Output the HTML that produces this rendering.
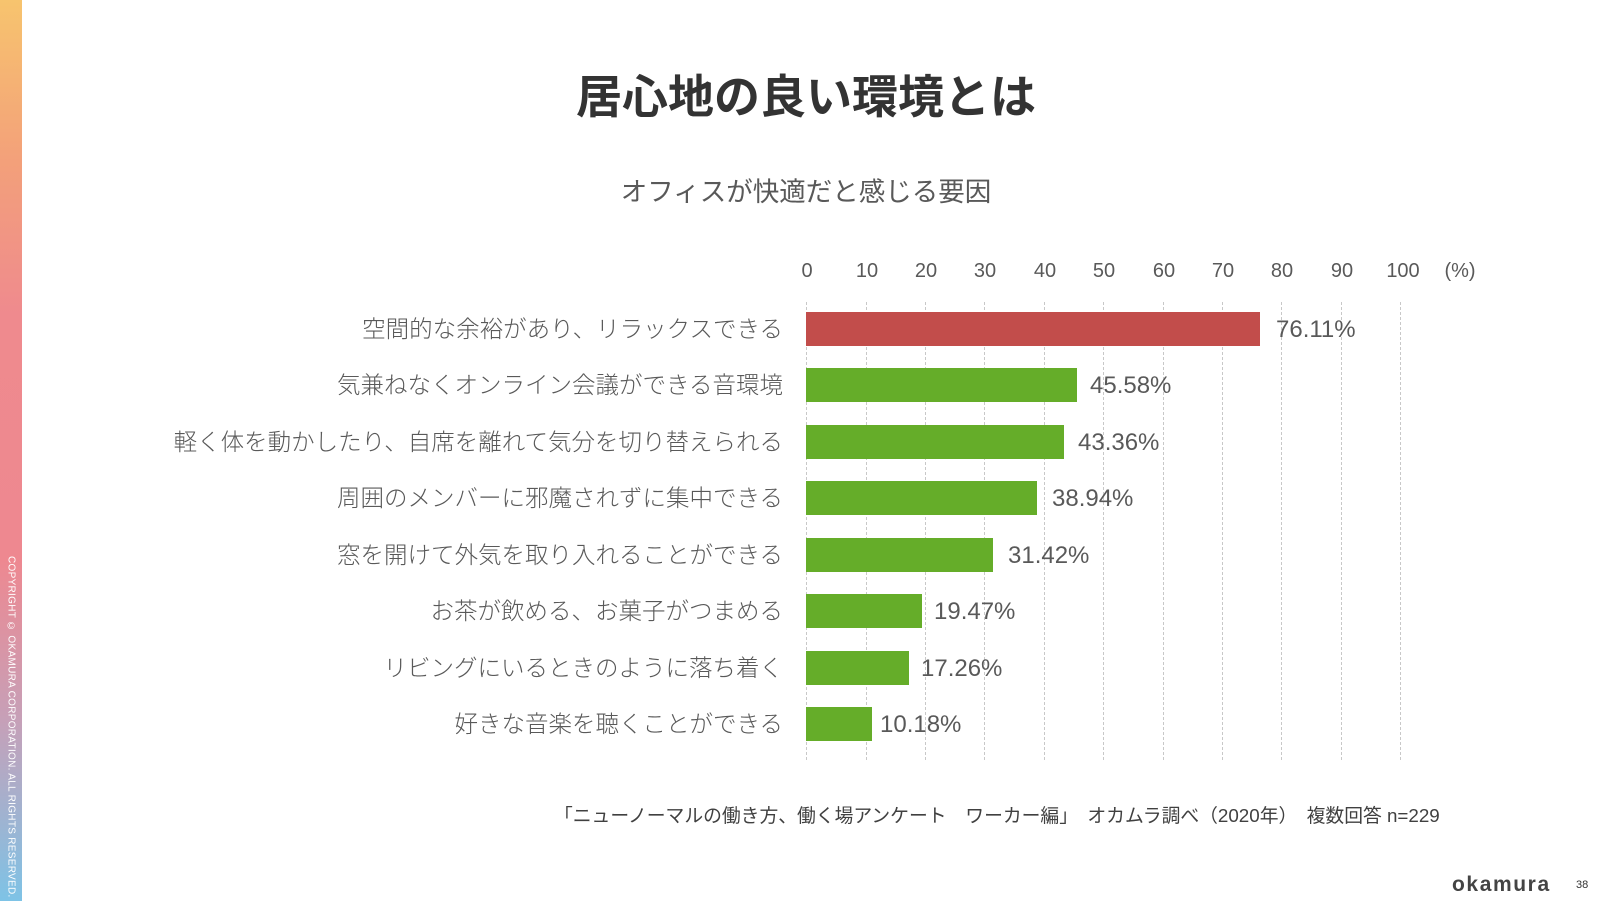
<!DOCTYPE html>
<html><head><meta charset="utf-8"><style>
body{margin:0;width:1602px;height:901px;background:#fff;position:relative;overflow:hidden;font-family:"Liberation Sans","Noto Sans CJK JP",sans-serif;}
.stripe{position:absolute;left:0;top:0;width:22px;height:901px;background:linear-gradient(#f7c46e 0%,#f3a07a 18%,#ef8a8e 35%,#ee8890 62%,#c6a0b8 80%,#7ec3e6 100%);}
.copy{position:absolute;left:11px;top:556px;writing-mode:vertical-rl;font-size:10px;color:#fff;letter-spacing:0.3px;transform:translateX(-50%);}
.t{position:absolute;white-space:nowrap;}
.lab{position:absolute;right:819px;font-size:23.5px;line-height:30px;color:#595959;white-space:nowrap;font-weight:300;}
.val{position:absolute;font-size:24px;line-height:30px;color:#595959;}
.tick{position:absolute;top:260px;font-size:20px;color:#595959;transform:translateX(-50%);}
.grid{position:absolute;top:302px;height:458px;border-left:1px dashed #c8c8c8;}
.bar{position:absolute;left:806px;height:34px;background:#65ad29;}
</style></head><body>
<div class="stripe"></div>
<div class="copy">COPYRIGHT © OKAMURA CORPORATION. ALL RIGHTS RESERVED.</div>
<div class="t" style="left:0;width:1612px;text-align:center;top:61px;font-size:46px;font-weight:bold;color:#333;">居心地の良い環境とは</div>
<div class="t" style="left:0;width:1612px;text-align:center;top:170px;font-size:26.5px;color:#595959;">オフィスが快適だと感じる要因</div>
<div class="grid" style="left:806px"></div><div class="grid" style="left:866px"></div><div class="grid" style="left:925px"></div><div class="grid" style="left:984px"></div><div class="grid" style="left:1044px"></div><div class="grid" style="left:1103px"></div><div class="grid" style="left:1163px"></div><div class="grid" style="left:1222px"></div><div class="grid" style="left:1281px"></div><div class="grid" style="left:1341px"></div><div class="grid" style="left:1400px"></div>
<div class="tick" style="left:807px">0</div><div class="tick" style="left:867px">10</div><div class="tick" style="left:926px">20</div><div class="tick" style="left:985px">30</div><div class="tick" style="left:1045px">40</div><div class="tick" style="left:1104px">50</div><div class="tick" style="left:1164px">60</div><div class="tick" style="left:1223px">70</div><div class="tick" style="left:1282px">80</div><div class="tick" style="left:1342px">90</div><div class="tick" style="left:1403px">100</div><div class="tick" style="left:1460px">(%)</div>

<div class="bar" style="top:312px;width:454px;background:#c24d4b"></div>
<div class="bar" style="top:368px;width:271px"></div>
<div class="bar" style="top:425px;width:258px"></div>
<div class="bar" style="top:481px;width:231px"></div>
<div class="bar" style="top:538px;width:187px"></div>
<div class="bar" style="top:594px;width:116px"></div>
<div class="bar" style="top:651px;width:103px"></div>
<div class="bar" style="top:707px;width:66px"></div>

<div class="lab" style="top:314px">空間的な余裕があり、リラックスできる</div>
<div class="lab" style="top:370px">気兼ねなくオンライン会議ができる音環境</div>
<div class="lab" style="top:427px">軽く体を動かしたり、自席を離れて気分を切り替えられる</div>
<div class="lab" style="top:483px">周囲のメンバーに邪魔されずに集中できる</div>
<div class="lab" style="top:540px">窓を開けて外気を取り入れることができる</div>
<div class="lab" style="top:596px">お茶が飲める、お菓子がつまめる</div>
<div class="lab" style="top:653px">リビングにいるときのように落ち着く</div>
<div class="lab" style="top:709px">好きな音楽を聴くことができる</div>

<div class="val" style="left:1276px;top:315px">76.11%</div>
<div class="val" style="left:1090px;top:371px">45.58%</div>
<div class="val" style="left:1078px;top:428px">43.36%</div>
<div class="val" style="left:1052px;top:484px">38.94%</div>
<div class="val" style="left:1008px;top:541px">31.42%</div>
<div class="val" style="left:934px;top:597px">19.47%</div>
<div class="val" style="left:921px;top:654px">17.26%</div>
<div class="val" style="left:880px;top:710px">10.18%</div>

<div class="t" style="left:554px;top:801px;font-size:18.8px;color:#404040;">「ニューノーマルの働き方、働く場アンケート　ワーカー編」　オカムラ調べ（2020年）　複数回答 n=229</div>
<div class="t" style="left:1452px;top:873px;font-size:21px;font-weight:bold;color:#444;letter-spacing:1.6px;">okamura</div>
<div class="t" style="left:1576px;top:879px;font-size:11px;color:#333;">38</div>
</body></html>
